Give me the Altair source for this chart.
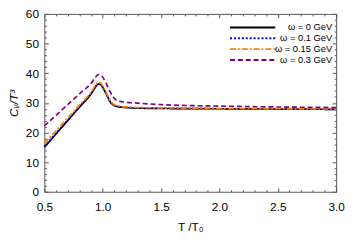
import altair as alt
import pandas as pd

# ---- data ----
T = [0.5, 0.6, 0.7, 0.8, 0.9, 0.93, 0.96, 0.98, 1.0, 1.03, 1.06, 1.09, 1.13, 1.2, 1.3, 1.5, 2.0, 2.5, 3.0]
cv_w0 = [15.0, 19.5, 24.0, 28.5, 33.0, 34.8, 36.3, 36.2, 35.2, 33.0, 30.6, 29.3, 28.7, 28.4, 28.2, 28.1, 28.0, 27.9, 27.8]
cv_w01 = [15.3, 19.8, 24.2, 28.7, 33.2, 35.0, 36.4, 36.3, 35.3, 33.1, 30.7, 29.4, 28.8, 28.5, 28.3, 28.2, 28.0, 27.9, 27.8]
cv_w015 = [16.3, 20.6, 24.9, 29.2, 33.6, 35.4, 36.9, 36.8, 35.8, 33.5, 31.0, 29.6, 29.0, 28.6, 28.4, 28.3, 28.1, 28.0, 27.9]
cv_w03 = [22.2, 25.8, 29.4, 33.0, 36.6, 38.2, 39.5, 39.4, 38.6, 36.6, 34.0, 32.0, 30.6, 30.2, 29.9, 29.4, 28.9, 28.6, 28.4]

series_names = ["ω = 0 GeV", "ω = 0.1 GeV", "ω = 0.15 GeV", "ω = 0.3 GeV"]
series_values = [cv_w0, cv_w01, cv_w015, cv_w03]
colors = ["#000000", "#0000ff", "#ff8000", "#800080"]
dashes = [[1, 0], [2, 2], [6, 2, 2, 2], [5, 3]]

x_major = [0.5, 1.0, 1.5, 2.0, 2.5, 3.0]
x_minor = [0.6, 0.7, 0.8, 0.9, 1.1, 1.2, 1.3, 1.4, 1.6, 1.7, 1.8, 1.9,
           2.1, 2.2, 2.3, 2.4, 2.6, 2.7, 2.8, 2.9]
y_major = [0, 10, 20, 30, 40, 50, 60]
y_minor = [2, 4, 6, 8, 12, 14, 16, 18, 22, 24, 26, 28, 32, 34, 36, 38,
           42, 44, 46, 48, 52, 54, 56, 58]

rows = []
for name, vals in zip(series_names, series_values):
    for t, v in zip(T, vals):
        rows.append({"T": t, "cv": v, "series": name})
df = pd.DataFrame(rows)

W, H = 297, 181
FONT = "Liberation Sans"
FRAME = "#555555"

xs = alt.Scale(domain=[0.5, 3.0], nice=False, zero=False)
ys = alt.Scale(domain=[0, 60], nice=False, zero=False)

leg = alt.Legend(
    orient="none", legendX=188, legendY=10, title=None, padding=0,
    symbolType="stroke", symbolSize=2116, symbolStrokeWidth=2,
    labelFont=FONT, labelFontSize=9.5, labelColor="black",
    clipHeight=7.7, rowPadding=0, labelAlign="right", labelOffset=57,
)

base = alt.Chart(df)

lines = base.mark_line(strokeWidth=1.7, interpolate="monotone").encode(
    x=alt.X("T:Q", scale=xs, axis=alt.Axis(
        orient="bottom", values=x_major, format=".1f", ticks=False, domain=False,
        labelFlush=False, grid=False,
        labelPadding=10, labelFontSize=12, labelFont=FONT, labelColor="black",
        title="T /T₀", titleFont=FONT, titleFontSize=12, titleFontWeight="normal",
        titleColor="black", titlePadding=9)),
    y=alt.Y("cv:Q", scale=ys, axis=alt.Axis(
        orient="left", values=y_major, ticks=False, domain=False, grid=False,
        labelPadding=6, labelFontSize=12, labelFont=FONT, labelColor="black",
        title="Cᵥ/T³", titleFont=FONT, titleFontSize=12, titleFontWeight="normal",
        titleFontStyle="italic", titleColor="black", titlePadding=5)),
    color=alt.Color("series:N", scale=alt.Scale(domain=series_names, range=colors), legend=leg),
    strokeDash=alt.StrokeDash("series:N", scale=alt.Scale(domain=series_names, range=dashes), legend=leg),
)


def tick_layer(xorient, yorient, xvals, yvals, size):
    return base.mark_point(opacity=0).encode(
        x=alt.X("T:Q", scale=xs, axis=alt.Axis(
            orient=xorient, offset=-H, values=xvals, labels=False, domain=False,
            title=None, tickSize=size, tickColor=FRAME, grid=False)),
        y=alt.Y("cv:Q", scale=ys, axis=alt.Axis(
            orient=yorient, offset=-W, values=yvals, labels=False, domain=False,
            title=None, tickSize=size, tickColor=FRAME, grid=False)),
    )


maj_a = tick_layer("top", "right", x_major, y_major, 4)
maj_b = tick_layer("bottom", "left", x_major, y_major, 4)
min_a = tick_layer("top", "right", x_minor, y_minor, 2)
min_b = tick_layer("bottom", "left", x_minor, y_minor, 2)

chart = alt.layer(lines, maj_a, maj_b, min_a, min_b).resolve_axis(
    x="independent", y="independent"
).properties(
    width=W, height=H,
    autosize=alt.AutoSizeParams(type="none"),
    padding={"left": 37, "top": 4, "right": 10, "bottom": 42},
).configure_view(stroke=FRAME, strokeWidth=1)

chart.save("out.html", embed_options={"renderer": "svg", "actions": False})
